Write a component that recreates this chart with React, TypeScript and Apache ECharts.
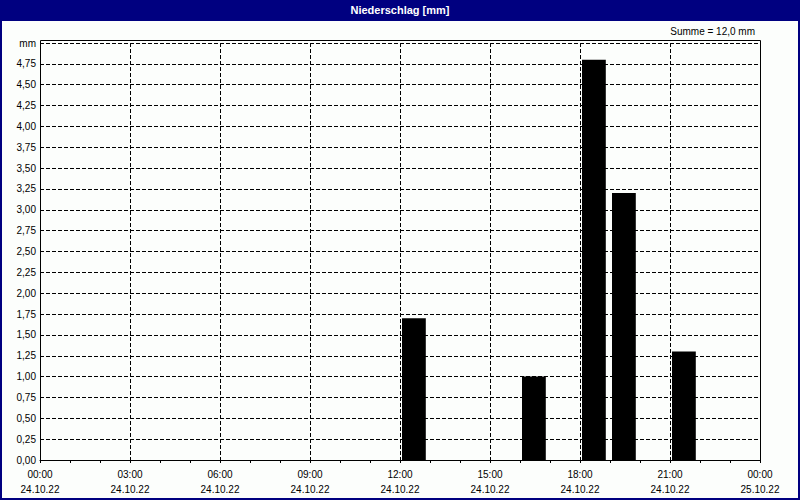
import React, { useEffect, useRef } from "react";
import * as echarts from "echarts";

const titleText = "Niederschlag [mm]";
const sumText = "Summe = 12,0 mm";
const yUnit = "mm";
// hour of day at which each hourly bar starts
const barHours = [12, 16, 18, 19, 21];
// precipitation per hour [mm]
const precip = [1.7, 1.0, 4.8, 3.2, 1.3];
// x tick labels (every 3 hours)
const timeLabels = ["00:00", "03:00", "06:00", "09:00", "12:00", "15:00", "18:00", "21:00", "00:00"];
const dateLabels = ["24.10.22", "24.10.22", "24.10.22", "24.10.22", "24.10.22", "24.10.22", "24.10.22", "24.10.22", "25.10.22"];

const FONT = "Liberation Sans";

export default function App() {
  const ref = useRef<HTMLDivElement>(null);
  useEffect(() => {
    if (!ref.current) return;
    const chart = echarts.init(ref.current, null, { renderer: "svg" });
    const data = barHours.map((h, i) => [h, precip[i]]);
    chart.setOption({
      animation: false,
      backgroundColor: "#fcfefc",
      textStyle: { fontFamily: FONT },
      grid: { left: 40, right: 40, top: 43, bottom: 40 },
      xAxis: {
        type: "value",
        min: 0,
        max: 24,
        interval: 3,
        axisLine: { show: true, lineStyle: { color: "#000", width: 1 } },
        axisTick: { show: true, length: 3, lineStyle: { color: "#000" } },
        minorTick: { show: true, splitNumber: 3, length: 3, lineStyle: { color: "#000" } },
        splitLine: { show: true, lineStyle: { color: "#000", type: [4, 2], width: 1 } },
        axisLabel: {
          color: "#000",
          fontSize: 10,
          fontFamily: FONT,
          lineHeight: 15,
          margin: 7,
          formatter: (v: number) => {
            const i = Math.round(v / 3);
            return timeLabels[i] + "\n" + dateLabels[i];
          },
        },
      },
      yAxis: {
        type: "value",
        min: 0,
        max: 5,
        interval: 0.25,
        axisLine: { show: true, lineStyle: { color: "#000", width: 1 } },
        axisTick: { show: false },
        splitLine: { show: true, lineStyle: { color: "#000", type: [4, 2], width: 1 } },
        axisLabel: {
          color: "#000",
          fontSize: 10,
          fontFamily: FONT,
          margin: 4,
          formatter: (v: number) => (v >= 5 ? yUnit : v.toFixed(2).replace(".", ",")),
        },
      },
      series: [
        {
          type: "custom",
          data,
          renderItem: (params: any, api: any) => {
            const h = api.value(0);
            const v = api.value(1);
            const top = api.coord([h, v]);
            const end = api.coord([h + 0.86, 0]);
            return {
              type: "rect",
              shape: { x: top[0] + 2, y: top[1], width: end[0] - top[0] - 2, height: end[1] - top[1] },
              style: { fill: "#000" },
            };
          },
        },
      ],
      graphic: [
        { type: "rect", z: 100, shape: { x: 0, y: 0, width: 800, height: 21 }, style: { fill: "#000080" } },
        {
          type: "text",
          z: 101,
          x: 400,
          y: 10,
          style: { text: titleText, fill: "#fff", font: `bold 11px "${FONT}"`, align: "center", verticalAlign: "middle" },
        },
        {
          type: "text",
          z: 101,
          x: 755,
          y: 31,
          style: { text: sumText, fill: "#000", font: `10px "${FONT}"`, align: "right", verticalAlign: "middle" },
        },
        {
          type: "rect",
          z: 100,
          shape: { x: 40.5, y: 40.5, width: 720, height: 420 },
          style: { fill: "none", stroke: "#000", lineWidth: 1 },
        },
        {
          type: "rect",
          z: 100,
          shape: { x: 1, y: 1, width: 798, height: 498 },
          style: { fill: "none", stroke: "#000080", lineWidth: 2 },
        },
      ],
    });
    return () => chart.dispose();
  }, []);
  return <div ref={ref} style={{ position: "absolute", left: 0, top: 0, width: 800, height: 500 }} />;
}
